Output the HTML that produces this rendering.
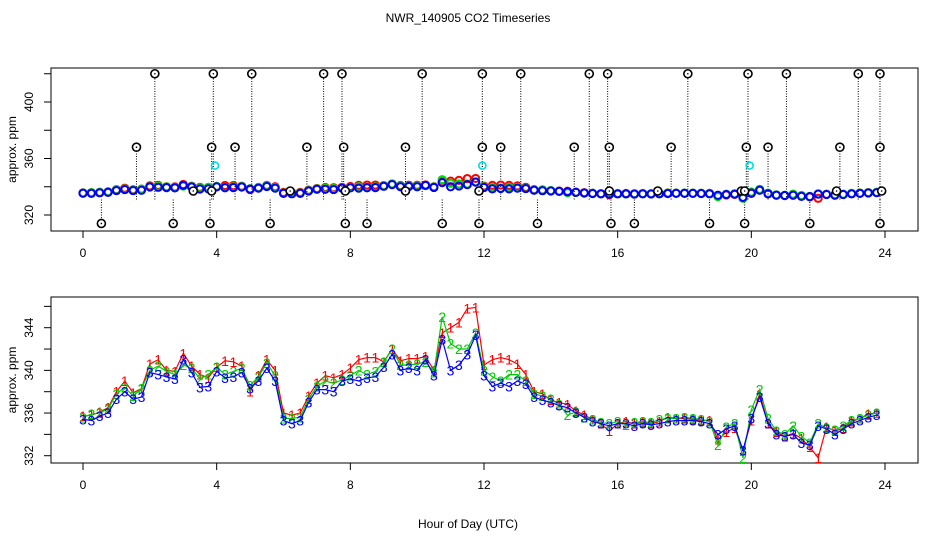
<!DOCTYPE html>
<html><head><meta charset="utf-8">
<style>
html,body{margin:0;padding:0;background:#fff;}
svg{display:block;font-family:"Liberation Sans",sans-serif;}
</style></head>
<body>
<svg id="chart" width="936" height="540" viewBox="0 0 936 540">
<rect width="936" height="540" fill="#fff"/>
<text x="468" y="22" text-anchor="middle" font-size="12">NWR_140905  CO2 Timeseries</text>
<text x="468" y="528" text-anchor="middle" font-size="12">Hour of Day (UTC)</text>
<g id="top"></g>
<g id="bot"></g>
</svg>
<script>
const step = 0.25;
const s3 = [335.4,335.3,335.7,336.0, 337.3,338.0,337.3,337.5, 339.8,339.6,339.4,339.2, 341.0,339.8,338.4,338.5,
 339.9,339.3,339.4,339.8, 338.3,339.0,340.2,339.0, 335.3,335.0,335.3,337.0, 338.2,338.2,338.0,339.0,
 339.2,339.0,339.3,339.4, 340.3,341.5,340.0,340.2, 340.0,341.0,339.5,342.9, 340.0,340.5,341.5,343.3,
 339.5,338.5,338.8,338.5, 339.0,338.7,337.5,337.2, 337.0,336.7,336.5,336.0, 335.6,335.2,335.0,334.8,
 335.0,335.0,334.8,335.0, 334.9,335.0,335.2,335.3, 335.3,335.3,335.2,335.0, 334.0,334.5,334.8,332.5,
 335.5,337.5,335.0,334.0, 333.8,334.0,333.2,333.0, 334.8,334.5,334.0,334.5, 335.0,335.3,335.6,335.8];
const s1 = [335.7,335.8,336.1,336.5, 338.0,339.0,337.9,338.3, 340.6,341.0,340.0,339.9, 341.6,340.4,339.6,339.3,
 340.3,340.9,340.8,340.4, 338.0,339.5,341.0,340.0, 336.0,335.8,336.0,337.6, 338.8,339.5,339.3,339.6,
 340.2,341.0,341.2,341.2, 340.8,342.0,340.9,341.1, 341.1,341.3,340.0,343.5, 344.0,344.5,345.8,345.9,
 340.5,341.0,341.2,341.0, 340.6,339.6,338.0,337.8, 337.2,337.0,336.8,336.2, 335.8,335.4,335.0,334.3,
 335.0,335.2,335.0,335.1, 335.0,335.2,335.6,335.5, 335.5,335.4,335.3,335.3, 333.5,334.2,334.6,332.5,
 335.3,337.8,335.0,334.2, 333.8,334.1,333.6,332.8, 331.8,334.7,334.3,334.6, 335.2,335.5,335.9,336.0];
const s2 = [335.6,335.9,336.0,336.4, 337.8,338.4,337.6,338.3, 340.0,340.4,339.9,339.6, 340.5,340.2,339.2,339.6,
 340.3,339.6,339.9,340.2, 338.6,339.4,340.7,339.5, 335.5,335.5,335.6,337.3, 338.5,339.0,338.8,339.1,
 339.5,340.0,339.6,339.9, 340.8,342.0,340.5,340.5, 340.6,340.8,339.8,345.0, 342.5,342.0,342.0,343.5,
 340.0,339.4,339.0,339.6, 339.6,339.0,337.8,337.6, 337.3,336.8,335.8,336.1, 335.6,335.4,335.1,335.0,
 335.2,334.9,335.1,335.2, 335.1,335.4,335.5,335.5, 335.6,335.5,335.4,335.2, 333.0,334.7,335.0,331.8,
 336.3,338.2,335.5,334.3, 334.0,334.8,333.8,333.2, 335.0,334.6,334.4,334.8, 335.3,335.5,335.8,336.0];
const outHigh = [2.15,3.9,5.05,7.2,7.75,10.15,11.95,13.1,15.15,15.7,18.1,19.9,21.05,23.2,23.85];
const outMid = [1.6,3.85,4.55,6.7,7.8,9.65,11.95,12.5,14.7,15.75,17.6,19.85,20.5,22.65,23.85];
const outLow = [0.55,2.7,3.8,5.6,7.85,8.5,10.75,11.85,13.6,15.8,16.5,18.75,19.8,21.75,23.85];
const outBase = [3.3,3.85,6.2,7.85,9.65,11.85,15.75,17.2,19.7,19.8,22.55,23.9];
const cyanHours = [3.95,11.95,19.95];
const levelHigh = 420, levelMid = 368, levelLow = 314, levelBase = 337, levelCyan = 355;
const xTicks = [0,4,8,12,16,20,24];
const topTicks = [320,340,360,380,400,420];
const topLabels = [320,360,400];
const botTicks = [332,334,336,338,340,342,344,346];
const botLabels = [332,336,340,344];

const NS = "http://www.w3.org/2000/svg";
function el(parent, tag, attrs){ const e=document.createElementNS(NS,tag); for(const k in attrs) e.setAttribute(k,attrs[k]); parent.appendChild(e); return e; }
const xS = h => 83 + h*(885-83)/24;
const yTop = v => 215 - (v-320)*(113/80);
const yBot = v => 455.7 - (v-332)*(128/12);

function axes(g, top, bottom, yS, ticks, labels, name){
  const box = el(g,'rect',{x:51,y:top,width:867,height:bottom-top,fill:'none',stroke:'#000','stroke-width':1});
  
  
  el(g,'line',{x1:xS(0),x2:xS(24),y1:bottom,y2:bottom,stroke:'#000'});
  xTicks.forEach(t=>{
    el(g,'line',{x1:xS(t),x2:xS(t),y1:bottom,y2:bottom+7,stroke:'#000'});
    const tx = el(g,'text',{x:xS(t),y:bottom+26,'text-anchor':'middle','font-size':12});
    tx.textContent=t;
    
    
  });
  el(g,'line',{x1:51,x2:51,y1:yS(ticks[0]),y2:yS(ticks[ticks.length-1]),stroke:'#000'});
  ticks.forEach(t=>{ el(g,'line',{x1:44,x2:51,y1:yS(t),y2:yS(t),stroke:'#000'}); });
  labels.forEach(t=>{
    const tx = el(g,'text',{x:0,y:0,'text-anchor':'middle','font-size':12,transform:`translate(33,${yS(t)}) rotate(-90)`});
    tx.textContent=t;
    
    
  });
  const yt = el(g,'text',{x:0,y:0,'text-anchor':'middle','font-size':12,transform:`translate(16,${(top+bottom)/2}) rotate(-90)`});
  yt.textContent='approx. ppm';
  
  
}

// TOP PANEL
const gt = document.getElementById('top');
axes(gt, 68, 231, yTop, topTicks, topLabels, 'top');
function outliers(list, level){
  list.forEach(h=>{
    const ln = el(gt,'line',{x1:xS(h),x2:xS(h),y1:yTop(331),y2:yTop(level),stroke:'#000','stroke-width':1,'stroke-dasharray':'1,1.5'});
    
    
  });
}
[[outHigh,levelHigh],[outMid,levelMid],[outLow,levelLow]].forEach(p=>outliers(p[0],p[1]));
[[s1,'#ff0000'],[s2,'#00dd00'],[s3,'#0000ff']].forEach(([s,c])=>{
  s.forEach((v,i)=>{
    const ci = el(gt,'circle',{cx:xS(i*step),cy:yTop(v),r:3.6,fill:'none',stroke:c,'stroke-width':2});
    
    
  });
});
[[outHigh,levelHigh],[outMid,levelMid],[outLow,levelLow],[outBase,levelBase]].forEach(([list,lv])=>{
  list.forEach(h=>{
    const ci = el(gt,'circle',{cx:xS(h),cy:yTop(lv),r:4,fill:'#fff',stroke:'#000','stroke-width':1.6});
    
    
    el(gt,'circle',{cx:xS(h),cy:yTop(lv),r:0.8,fill:'#000'});
  });
});
cyanHours.forEach(h=>{
  const ci = el(gt,'circle',{cx:xS(h),cy:yTop(levelCyan),r:3.5,fill:'none',stroke:'#00dddd','stroke-width':1.6});
  
  
});

// BOTTOM PANEL
const gb = document.getElementById('bot');
axes(gb, 297, 463, yBot, botTicks, botLabels, 'bottom');
[[s1,'#ff0000','1'],[s2,'#00cc00','2'],[s3,'#0000ff','3']].forEach(([s,c,lab])=>{
  const pts = s.map((v,i)=>xS(i*step).toFixed(1)+','+yBot(v).toFixed(1)).join(' ');
  const pl = el(gb,'polyline',{points:pts,fill:'none',stroke:c,'stroke-width':1.2});
  
  
  s.forEach((v,i)=>{
    const t = el(gb,'text',{x:xS(i*step),y:yBot(v)+5,'text-anchor':'middle','font-size':14,fill:c});
    t.textContent = lab;
    
    
  });
});
</script>
</body></html>
